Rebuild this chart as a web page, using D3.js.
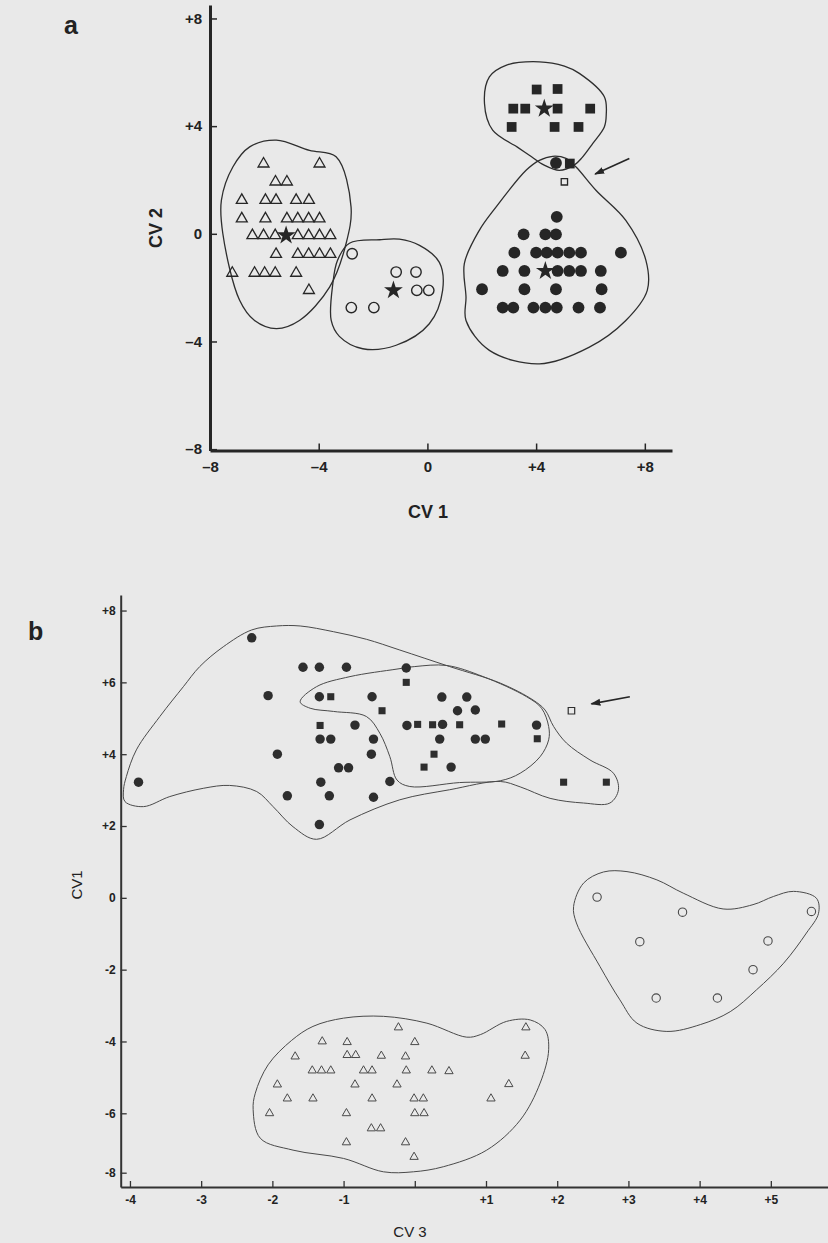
<!DOCTYPE html>
<html>
<head>
<meta charset="utf-8">
<title>Canonical variate plots</title>
<style>
  body { margin: 0; background: #e9e9e9; }
  svg { display: block; }
  text { font-family: "Liberation Sans", Arial, sans-serif; fill: #222; }
</style>
</head>
<body>
<svg id="fig" width="828" height="1243"></svg>
<script src="https://d3js.org/d3.v7.min.js"></script>
<script>
// ---------- panel a data (CV1 vs CV2) ----------
const aXTicks = [-8, -4, 0, 4, 8];
const aYTicks = [-8, -4, 0, 4, 8];

const aTriangles = [
  [-6.03, 2.6], [-3.97, 2.6],
  [-5.59, 1.93], [-5.17, 1.93],
  [-6.83, 1.25], [-5.96, 1.25], [-5.57, 1.25], [-4.83, 1.25], [-4.36, 1.25],
  [-6.83, 0.56], [-5.96, 0.56], [-5.17, 0.56], [-4.77, 0.56], [-4.37, 0.56], [-3.97, 0.56],
  [-6.44, -0.06], [-6.03, -0.06], [-5.6, -0.06], [-4.77, -0.06], [-4.37, -0.06], [-3.97, -0.06], [-3.57, -0.06],
  [-5.57, -0.76], [-4.77, -0.76], [-4.37, -0.76], [-3.97, -0.76], [-3.57, -0.76],
  [-7.18, -1.46], [-6.36, -1.46], [-5.99, -1.46], [-5.6, -1.46], [-4.83, -1.46],
  [-4.36, -2.1]
];
const aOpenCircles = [
  [-2.77, -0.74], [-1.15, -1.42], [-0.42, -1.42], [-0.39, -2.1], [0.05, -2.1],
  [-2.8, -2.74], [-1.97, -2.74]
];
const aSquares = [
  [4.02, 5.36], [4.79, 5.38], [3.16, 4.65], [3.6, 4.65], [4.79, 4.65], [5.99, 4.65],
  [3.1, 3.97], [4.68, 3.97], [5.56, 3.97], [5.24, 2.61]
];
const aOpenSquares = [[5.04, 1.93]];
const aDots = [
  [4.73, 2.63], [4.76, 0.63],
  [3.54, -0.02], [4.34, -0.02], [4.73, -0.02],
  [3.2, -0.7], [4.0, -0.7], [4.39, -0.7], [4.79, -0.7], [5.22, -0.7], [5.65, -0.7], [7.12, -0.7],
  [2.77, -1.38], [3.57, -1.38], [4.79, -1.38], [5.22, -1.38], [5.65, -1.38], [6.38, -1.38],
  [2.01, -2.06], [3.57, -2.06], [4.73, -2.06], [6.41, -2.06],
  [2.77, -2.74], [3.16, -2.74], [3.9, -2.74], [4.34, -2.74], [4.76, -2.74], [5.56, -2.74], [6.35, -2.74]
];
const aStars = [[-5.2, -0.06], [-1.25, -2.1], [4.3, 4.65], [4.34, -1.38]];
const aArrow = [[7.43, 2.8], [6.17, 2.22]];

// group outlines, panel a
const aTriangleHull = [
  [-5.56, 3.48], [-4.34, 3.1], [-3.36, 2.86], [-2.81, 1.0], [-2.99, -0.35], [-3.6, -1.98],
  [-4.71, -3.22], [-5.56, -3.52], [-6.36, -3.22], [-6.91, -2.47], [-7.53, 0.02],
  [-7.58, 1.25], [-7.16, 2.48], [-6.54, 3.23]
];
const aCircleHull = [
  [-1.76, -0.22], [-2.87, -0.35], [-3.31, -0.99], [-3.48, -1.85], [-3.54, -3.22], [-3.24, -3.81],
  [-2.38, -4.27], [-1.15, -4.14], [0.07, -3.34], [0.56, -2.1], [0.44, -1.06], [-0.29, -0.43], [-1.03, -0.2]
];
const aSquareHull = [
  [4.12, 6.39], [5.04, 6.23], [5.59, 5.96], [6.51, 5.09], [6.58, 4.41], [6.51, 3.97], [6.08, 3.35],
  [5.7, 2.84], [5.4, 2.55], [4.85, 2.36], [4.3, 2.55], [3.75, 2.92], [3.31, 3.22], [2.4, 3.85],
  [2.1, 4.84], [2.28, 5.83], [2.89, 6.26]
];
const aDotHull = [
  [4.12, 2.73], [4.61, 2.88], [5.1, 2.8], [5.47, 2.48], [6.2, 1.62], [7.3, 0.5], [8.04, -0.99],
  [8.09, -2.1], [7.3, -3.22], [5.96, -4.21], [4.12, -4.83], [2.28, -4.33], [1.42, -3.22],
  [1.42, -2.35], [1.36, -1.1], [1.91, 0.13], [2.53, 1.0], [3.63, 2.36]
];

// ---------- panel b data (CV3 vs CV1) ----------
const bXTicks = [-4, -3, -2, -1, 0, 1, 2, 3, 4, 5];
const bYTicks = [-8, -6, -4, -2, 0, 2, 4, 6, 8];

const bDots = [
  [-3.88, 3.22], [-2.29, 7.24],
  [-1.57, 6.42], [-1.34, 6.42], [-0.96, 6.42], [-0.12, 6.4],
  [-2.06, 5.63], [-1.34, 5.6], [-0.6, 5.6], [0.38, 5.59], [0.73, 5.59],
  [0.6, 5.21], [0.85, 5.23],
  [-0.84, 4.81], [-0.11, 4.8], [0.39, 4.83], [1.71, 4.81],
  [-1.33, 4.42], [-1.18, 4.42], [-0.58, 4.42], [0.35, 4.42], [0.85, 4.42], [0.99, 4.42],
  [-1.93, 4.0], [-0.61, 4.0],
  [-1.07, 3.62], [-0.93, 3.62], [0.51, 3.64],
  [-1.32, 3.22], [-0.35, 3.24],
  [-1.79, 2.84], [-1.2, 2.84], [-0.58, 2.8],
  [-1.34, 2.04]
];
const bSquares = [
  [-1.18, 5.6], [-0.46, 5.21], [-1.33, 4.8], [-0.12, 6.0], [0.04, 4.83], [0.25, 4.82],
  [0.63, 4.82], [1.22, 4.84], [1.72, 4.43], [0.27, 4.0], [0.13, 3.64], [2.09, 3.22], [2.69, 3.22]
];
const bOpenSquares = [[2.2, 5.21]];
const bOpenCircles = [
  [2.56, 0.02], [3.76, -0.4], [5.57, -0.38], [3.16, -1.22], [4.96, -1.2],
  [4.75, -2.0], [3.39, -2.79], [4.25, -2.79]
];
const bTriangles = [
  [-1.3, -4.0], [-0.95, -4.02], [-0.23, -3.61], [0.0, -4.02], [1.56, -3.61],
  [-1.68, -4.42], [-0.95, -4.38], [-0.83, -4.38], [-0.47, -4.4], [-0.13, -4.42], [1.55, -4.4],
  [-1.44, -4.81], [-1.31, -4.81], [-1.18, -4.81], [-0.72, -4.81], [-0.6, -4.81], [-0.12, -4.81],
  [0.24, -4.81], [0.48, -4.83],
  [-1.93, -5.2], [-0.84, -5.2], [-0.25, -5.2], [1.32, -5.19],
  [-1.79, -5.59], [-1.43, -5.59], [-0.6, -5.59], [-0.01, -5.59], [0.12, -5.59], [1.07, -5.59],
  [-2.04, -6.0], [-0.96, -6.0], [0.0, -6.0], [0.13, -6.0],
  [-0.61, -6.51], [-0.48, -6.51],
  [-0.96, -6.98], [-0.13, -6.98],
  [-0.01, -7.47]
];
const bArrow = [[3.02, 5.6], [2.48, 5.4]];

// group outlines, panel b
const bOuterHull = [
  [-4.09, 3.01], [-4.05, 3.38], [-3.91, 4.12], [-3.58, 5.05], [-3.25, 5.88], [-3.02, 6.44],
  [-2.69, 6.99], [-2.29, 7.46], [-1.94, 7.57], [-1.61, 7.57], [-1.14, 7.41], [-0.68, 7.2],
  [-0.21, 6.9], [0.49, 6.44], [1.2, 5.98], [1.66, 5.51], [1.83, 5.23], [1.95, 4.77],
  [2.13, 4.31], [2.46, 3.84], [2.79, 3.47], [2.86, 3.01], [2.74, 2.64], [2.37, 2.64],
  [1.9, 2.77], [1.48, 3.09], [1.2, 3.24], [0.49, 3.01], [-0.21, 2.73], [-0.91, 2.17],
  [-1.38, 1.63], [-1.71, 1.98], [-1.99, 2.54], [-2.22, 2.96], [-2.6, 3.13], [-2.97, 3.05],
  [-3.44, 2.82], [-3.81, 2.54], [-4.07, 2.68]
];
const bInnerHull = [
  [-1.61, 5.46], [-1.38, 5.88], [-0.91, 6.16], [-0.25, 6.37], [0.0, 6.44], [0.45, 6.47],
  [0.96, 6.16], [1.57, 5.6], [1.78, 5.28], [1.88, 4.77], [1.88, 4.4], [1.76, 3.93],
  [1.48, 3.47], [1.2, 3.26], [0.63, 3.21], [-0.07, 3.1], [-0.25, 3.28], [-0.35, 3.93],
  [-0.49, 4.58], [-0.68, 5.05], [-1.14, 5.19], [-1.47, 5.28]
];
const bCircleHull = [
  [2.37, 0.41], [2.65, 0.72], [2.98, 0.73], [3.4, 0.5], [3.77, 0.13], [4.33, -0.31],
  [4.75, -0.19], [5.04, 0.04], [5.32, 0.18], [5.64, -0.01], [5.67, -0.43], [5.5, -0.98],
  [5.18, -1.82], [4.8, -2.56], [4.43, -3.17], [4.01, -3.53], [3.54, -3.72], [3.12, -3.49],
  [2.88, -2.84], [2.6, -1.91], [2.27, -0.7], [2.23, -0.24]
];
const bTriangleHull = [
  [-2.24, -5.44], [-2.27, -5.9], [-2.17, -6.84], [-1.71, -7.24], [-1.0, -7.52], [-0.44, -7.97],
  [-0.02, -7.97], [0.4, -7.8], [1.01, -7.24], [1.48, -6.23], [1.76, -5.16], [1.88, -4.23],
  [1.83, -3.67], [1.62, -3.4], [1.29, -3.44], [0.92, -3.81], [0.73, -3.88], [0.17, -3.49],
  [-0.44, -3.3], [-1.0, -3.35], [-1.43, -3.58], [-1.73, -3.97], [-2.06, -4.65]
];

// ---------- drawing ----------
const ink = "#262626";
const svg = d3.select("#fig");

svg.append("defs").append("marker")
  .attr("id", "head")
  .attr("viewBox", "0 0 10 10")
  .attr("refX", 9).attr("refY", 5)
  .attr("markerWidth", 10).attr("markerHeight", 10)
  .attr("markerUnits", "userSpaceOnUse")
  .attr("orient", "auto")
  .append("path")
  .attr("d", "M0,1.5 L10,5 L0,8.5 Z")
  .attr("fill", ink);

// draw a set of markers with a d3 symbol
function plotSymbols(g, pts, x, y, type, size, filled, strokeW, color) {
  g.append("g").selectAll("path")
    .data(pts)
    .join("path")
    .attr("transform", d => `translate(${x(d[0])},${y(d[1])})`)
    .attr("d", d3.symbol().type(type).size(size))
    .attr("fill", filled ? color : "none")
    .attr("stroke", color)
    .attr("stroke-width", filled ? 0 : strokeW);
}

function plotHull(g, pts, x, y, color, width) {
  const line = d3.line()
    .x(d => x(d[0]))
    .y(d => y(d[1]))
    .curve(d3.curveCatmullRomClosed.alpha(0.5));
  g.append("path")
    .datum(pts)
    .attr("d", line)
    .attr("fill", "none")
    .attr("stroke", color)
    .attr("stroke-width", width);
}

function plotArrow(g, pts, x, y) {
  g.append("line")
    .attr("x1", x(pts[0][0])).attr("y1", y(pts[0][1]))
    .attr("x2", x(pts[1][0])).attr("y2", y(pts[1][1]))
    .attr("stroke", ink)
    .attr("stroke-width", 1.6)
    .attr("marker-end", "url(#head)");
}

// ================= panel a =================
const xA = d3.scaleLinear().domain([-8, 9]).range([210, 672]);
const yA = d3.scaleLinear().domain([-8.05, 8.5]).range([450.5, 5]);
const gA = svg.append("g");

const fmtA = v => v > 0 ? "+" + v : v < 0 ? "\u2013" + Math.abs(v) : "0";

const yAxisA = gA.append("g")
  .attr("transform", `translate(${xA(-8)},0)`)
  .call(d3.axisLeft(yA).tickValues(aYTicks).tickFormat(fmtA)
    .tickSizeInner(-7).tickSizeOuter(0).tickPadding(8));
const xAxisA = gA.append("g")
  .attr("transform", `translate(0,${yA(-8.05)})`)
  .call(d3.axisBottom(xA).tickValues(aXTicks).tickFormat(fmtA)
    .tickSizeInner(-7).tickSizeOuter(0).tickPadding(11));

[yAxisA, xAxisA].forEach(ax => {
  ax.select(".domain").attr("stroke", ink).attr("stroke-width", 3);
  ax.selectAll(".tick line").attr("stroke", ink).attr("stroke-width", 1.5);
  ax.selectAll(".tick text")
    .attr("fill", ink)
    .style("font-family", "'Liberation Sans', Arial, sans-serif")
    .style("font-size", "15px")
    .style("font-weight", "bold");
});

gA.append("text").attr("x", 64).attr("y", 34)
  .style("font-size", "25px").style("font-weight", "bold").text("a");
gA.append("text").attr("x", 428).attr("y", 518).attr("text-anchor", "middle")
  .style("font-size", "18px").style("font-weight", "bold").text("CV 1");
gA.append("text")
  .attr("transform", `translate(162,228) rotate(-90)`)
  .attr("text-anchor", "middle")
  .style("font-size", "18px").style("font-weight", "bold").text("CV 2");

[aTriangleHull, aCircleHull, aSquareHull, aDotHull].forEach(h => plotHull(gA, h, xA, yA, "#2e2e2e", 1.3));

plotSymbols(gA, aTriangles, xA, yA, d3.symbolTriangle, 52, false, 1.3, ink);
plotSymbols(gA, aOpenCircles, xA, yA, d3.symbolCircle, 85, false, 1.4, ink);
plotSymbols(gA, aSquares, xA, yA, d3.symbolSquare, 95, true, 0, ink);
plotSymbols(gA, aOpenSquares, xA, yA, d3.symbolSquare, 40, false, 1.3, ink);
plotSymbols(gA, aDots, xA, yA, d3.symbolCircle, 110, true, 0, ink);
plotSymbols(gA, aStars, xA, yA, d3.symbolStar, 110, true, 0, ink);
plotArrow(gA, aArrow, xA, yA);

// ================= panel b =================
const xB = d3.scaleLinear().domain([-4.13, 5.8]).range([120.7, 827.8]);
// the printed -8 tick sits closer to -6 than the others, so the scale bends there
const yB = d3.scaleLinear().domain([-8.96, -8, -6, 8.43]).range([1187, 1172.7, 1113.3, 595.1]);
const gB = svg.append("g");

const fmtBY = v => v > 0 ? "+" + v : v < 0 ? "-" + Math.abs(v) : "0";
const fmtBX = v => v > 0 ? "+" + v : v < 0 ? "-" + Math.abs(v) : "";

const yAxisB = gB.append("g")
  .attr("transform", `translate(${xB(-4.13)},0)`)
  .call(d3.axisLeft(yB).tickValues(bYTicks).tickFormat(fmtBY)
    .tickSizeInner(-6).tickSizeOuter(0).tickPadding(5));
const xAxisB = gB.append("g")
  .attr("transform", `translate(0,${yB(-8.96)})`)
  .call(d3.axisBottom(xB).tickValues(bXTicks).tickFormat(fmtBX)
    .tickSizeInner(-6).tickSizeOuter(0).tickPadding(8));

[yAxisB, xAxisB].forEach(ax => {
  ax.select(".domain").attr("stroke", "#333").attr("stroke-width", 2);
  ax.selectAll(".tick line").attr("stroke", "#333").attr("stroke-width", 1.3);
  ax.selectAll(".tick text")
    .attr("fill", "#333")
    .style("font-family", "'Liberation Sans', Arial, sans-serif")
    .style("font-size", "12px")
    .style("font-weight", "bold");
});

gB.append("text").attr("x", 28).attr("y", 640)
  .style("font-size", "25px").style("font-weight", "bold").text("b");
gB.append("text").attr("x", 410).attr("y", 1237).attr("text-anchor", "middle")
  .style("font-size", "15px").attr("fill", "#333").text("CV 3");
gB.append("text")
  .attr("transform", `translate(82,885) rotate(-90)`)
  .attr("text-anchor", "middle")
  .style("font-size", "15px").attr("fill", "#333").text("CV1");

[bOuterHull, bInnerHull, bCircleHull, bTriangleHull].forEach(h => plotHull(gB, h, xB, yB, "#4a4a4a", 1));

plotSymbols(gB, bTriangles, xB, yB, d3.symbolTriangle, 30, false, 1, "#4a4a4a");
plotSymbols(gB, bOpenCircles, xB, yB, d3.symbolCircle, 55, false, 1.1, "#4a4a4a");
plotSymbols(gB, bDots, xB, yB, d3.symbolCircle, 70, true, 0, "#2e2e2e");
plotSymbols(gB, bSquares, xB, yB, d3.symbolSquare, 50, true, 0, "#2e2e2e");
plotSymbols(gB, bOpenSquares, xB, yB, d3.symbolSquare, 42, false, 1.2, "#2e2e2e");
plotArrow(gB, bArrow, xB, yB);
</script>
</body>
</html>
